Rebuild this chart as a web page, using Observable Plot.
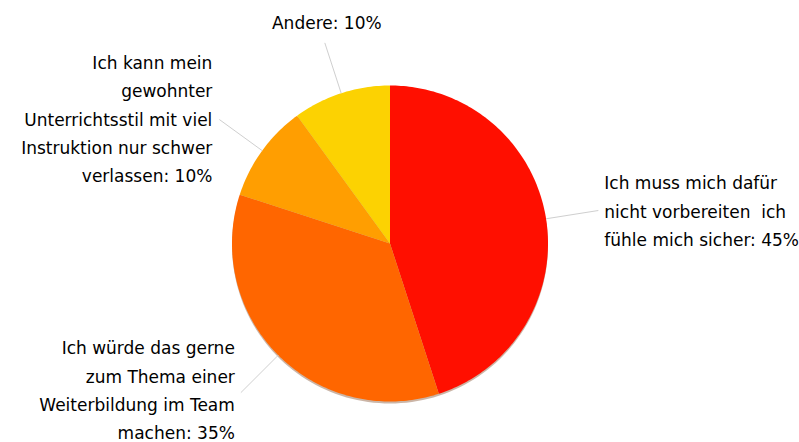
<!DOCTYPE html>
<html>
<head>
<meta charset="utf-8">
<script src="https://cdn.jsdelivr.net/npm/d3@7"></script>
<script src="https://cdn.jsdelivr.net/npm/@observablehq/plot@0.6"></script>
<style>
  html, body { margin: 0; padding: 0; background: #fff; }
  svg text { white-space: pre; }
</style>
</head>
<body>
<div id="chart"></div>
<script>
// ---- data ----
const categories = [
  "Ich muss mich dafür\nnicht vorbereiten  ich\nfühle mich sicher",
  "Ich würde das gerne\nzum Thema einer\nWeiterbildung im Team\nmachen",
  "Ich kann mein\ngewohnter\nUnterrichtsstil mit viel\nInstruktion nur schwer\nverlassen",
  "Andere"
];
const values = [45, 35, 10, 10];
const colors = ["#FF0F00", "#FF6600", "#FF9E01", "#FCD202"];

// ---- layout ----
const W = 799, H = 442;
const cx = 389.5, cy = 243, R = 158;
const leader = 1.335; // leader end radius (unit)

const total = d3.sum(values);
const slices = [];
let acc = 0;
values.forEach((v, i) => {
  const a0 = acc / total * 2 * Math.PI;
  acc += v;
  const a1 = acc / total * 2 * Math.PI;
  const mid = (a0 + a1) / 2;
  slices.push({i, name: categories[i], value: v, a0, a1, mid,
    label: categories[i] + ": " + v + "%"});
});

// polygon points for each slice (unit circle, clockwise from 12 o'clock)
const pts = [];
for (const s of slices) {
  pts.push({slice: s.name, x: 0, y: 0});
  const n = Math.max(2, Math.ceil((s.a1 - s.a0) / (Math.PI / 180)));
  for (let k = 0; k <= n; k++) {
    const a = s.a0 + (s.a1 - s.a0) * k / n;
    pts.push({slice: s.name, x: Math.sin(a), y: Math.cos(a)});
  }
  pts.push({slice: s.name, x: 0, y: 0});
}
const circle = d3.range(0, 361, 2).map(d => ({x: Math.sin(d * Math.PI / 180), y: Math.cos(d * Math.PI / 180)}));

const links = slices.map(s => {
  const sx = Math.sin(s.mid), sy = Math.cos(s.mid);
  const side = sx > 0.4 ? "right" : sx < -0.4 ? (sy > 0 ? "leftUp" : "leftDown") : "top";
  return {x1: sx, y1: sy, x2: sx * leader, y2: sy * leader, label: s.label, side};
});

const txt = {text: "label", x: "x2", y: "y2", lineHeight: 1.67, fill: "#000", fontSize: 17};

const chart = Plot.plot({
  width: W, height: H,
  margin: 0,
  style: {fontFamily: "'DejaVu Sans', sans-serif", fontSize: "17px", background: "#fff"},
  x: {domain: [-1, 1], range: [cx - R, cx + R], axis: null},
  y: {domain: [-1, 1], range: [cy + R, cy - R], axis: null},
  color: {domain: categories, range: colors},
  marks: [
    Plot.line(circle, {x: "x", y: "y", fill: "#6b2a00", fillOpacity: 0.35, stroke: "none", dy: 2}),
    Plot.line(pts, {x: "x", y: "y", z: "slice", fill: "slice", stroke: "none", curve: "linear"}),
    Plot.link(links, {x1: "x1", y1: "y1", x2: "x2", y2: "y2", stroke: "#cfcfcf", strokeWidth: 1}),
    Plot.text(links.filter(d => d.side === "right"), {...txt, textAnchor: "start", lineAnchor: "middle", dx: 6, dy: -2}),
    Plot.text(links.filter(d => d.side === "leftUp"), {...txt, textAnchor: "end", lineAnchor: "middle", dx: -7, dy: -3}),
    Plot.text(links.filter(d => d.side === "leftDown"), {...txt, textAnchor: "end", lineAnchor: "middle", dx: -6, dy: -5}),
    Plot.text(links.filter(d => d.side === "top"), {...txt, textAnchor: "middle", lineAnchor: "bottom", dy: -14, dx: 2})
  ]
});
document.getElementById("chart").appendChild(chart);
</script>
</body>
</html>
